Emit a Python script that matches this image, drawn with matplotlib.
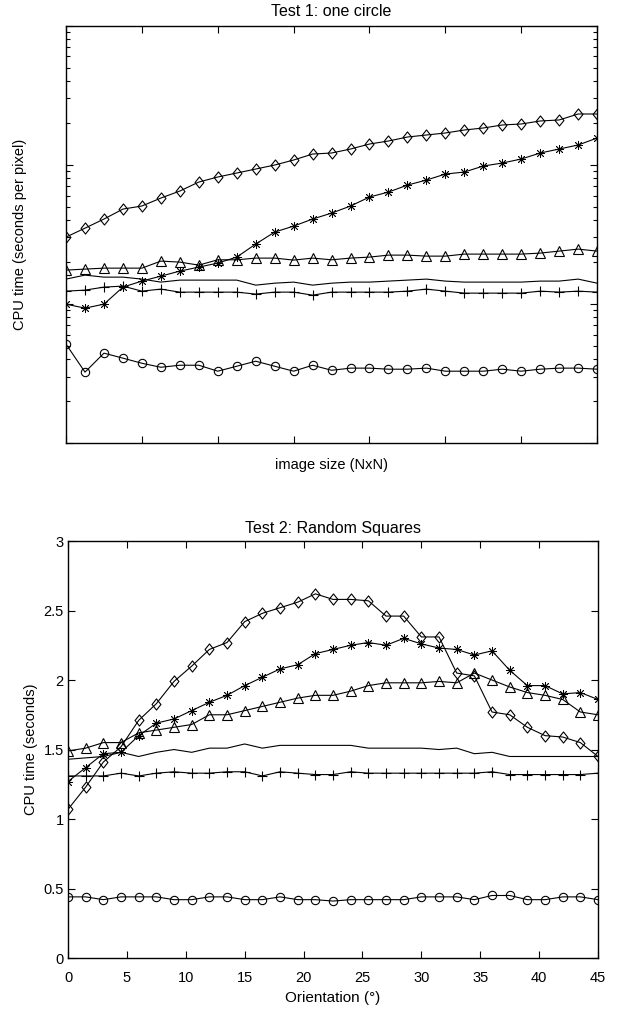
import matplotlib
matplotlib.use('Agg')
import matplotlib.pyplot as plt
import matplotlib.ticker as ticker
from matplotlib.path import Path

plt.rcParams['font.family'] = ['Liberation Sans', 'DejaVu Sans']
plt.rcParams['font.size'] = 10.5

# Test 1: one circle -- 29 image sizes, log scale values (no tick labels in the source)
size_idx = list(range(29))
t1_diamond = [30.2, 35.0, 40.7, 48.0, 50.5, 57.6, 64.7, 75.1, 81.6, 87.2, 93.1, 99.5, 108.1, 119.4, 121.4,
              129.7, 140.9, 148.1, 158.2, 163.6, 169.1, 177.7, 183.7, 193.1, 196.3, 206.3, 209.8, 231.6, 231.6]
t1_star = [9.95, 9.31, 9.95, 13.19, 14.57, 15.82, 17.19, 18.37, 19.63, 21.68, 26.89, 32.8, 36.2, 40.7, 44.9,
           50.5, 58.6, 63.6, 71.4, 77.6, 85.7, 88.6, 97.9, 102.8, 109.9, 121.4, 129.7, 138.6, 155.6]
t1_triangle = [17.48, 17.77, 18.06, 18.06, 18.06, 20.29, 19.95, 18.98, 20.73, 20.73, 21.32, 21.32, 20.63, 21.32, 20.73,
               21.32, 21.68, 22.40, 22.40, 22.03, 22.03, 22.78, 22.78, 22.78, 22.78, 23.16, 23.94, 24.74, 23.94]
t1_plain = [15.06, 16.09, 15.56, 15.56, 15.06, 14.33, 14.81, 14.81, 14.81, 14.81, 13.63, 14.08, 14.33, 13.63, 14.08,
            14.33, 14.33, 14.57, 14.81, 15.06, 14.57, 14.33, 14.33, 14.33, 14.33, 14.57, 14.57, 15.06, 14.08]
t1_plus = [12.34, 12.55, 13.19, 13.41, 12.34, 12.76, 12.14, 12.14, 12.14, 12.14, 11.75, 12.14, 12.14, 11.55, 12.14,
           12.14, 12.14, 12.14, 12.34, 12.76, 12.34, 11.94, 11.94, 11.94, 11.94, 12.34, 12.14, 12.34, 12.14]
t1_circle = [5.13, 3.23, 4.42, 4.07, 3.74, 3.50, 3.62, 3.62, 3.28, 3.56, 3.87, 3.56, 3.28, 3.62, 3.33,
             3.45, 3.45, 3.39, 3.39, 3.45, 3.28, 3.28, 3.28, 3.39, 3.28, 3.39, 3.45, 3.45, 3.39]

# Test 2: Random Squares
angles = [0, 1.5, 3, 4.5, 6, 7.5, 9, 10.5, 12, 13.5, 15, 16.5, 18, 19.5, 21, 22.5,
          24, 25.5, 27, 28.5, 30, 31.5, 33, 34.5, 36, 37.5, 39, 40.5, 42, 43.5, 45]
t2_diamond = [1.07, 1.23, 1.41, 1.52, 1.71, 1.83, 1.99, 2.10, 2.22, 2.27, 2.42, 2.48, 2.52, 2.56, 2.62, 2.58,
              2.58, 2.57, 2.46, 2.46, 2.31, 2.31, 2.05, 2.03, 1.77, 1.75, 1.66, 1.60, 1.59, 1.55, 1.45]
t2_star = [1.27, 1.37, 1.47, 1.48, 1.60, 1.69, 1.72, 1.78, 1.84, 1.89, 1.96, 2.02, 2.08, 2.11, 2.19, 2.22,
           2.25, 2.27, 2.25, 2.30, 2.26, 2.23, 2.22, 2.18, 2.21, 2.07, 1.96, 1.96, 1.90, 1.91, 1.86]
t2_triangle = [1.49, 1.51, 1.55, 1.55, 1.62, 1.64, 1.66, 1.68, 1.75, 1.75, 1.78, 1.81, 1.84, 1.87, 1.89, 1.89,
               1.92, 1.96, 1.98, 1.98, 1.98, 1.99, 1.98, 2.05, 2.00, 1.95, 1.91, 1.89, 1.86, 1.77, 1.75]
t2_plain = [1.43, 1.44, 1.45, 1.48, 1.45, 1.48, 1.50, 1.48, 1.51, 1.51, 1.54, 1.51, 1.53, 1.53, 1.53, 1.53,
            1.53, 1.51, 1.51, 1.51, 1.51, 1.50, 1.51, 1.47, 1.48, 1.45, 1.45, 1.45, 1.45, 1.45, 1.45]
t2_plus = [1.31, 1.31, 1.31, 1.33, 1.31, 1.33, 1.34, 1.33, 1.33, 1.34, 1.34, 1.31, 1.34, 1.33, 1.32, 1.32,
           1.34, 1.33, 1.33, 1.33, 1.33, 1.33, 1.33, 1.33, 1.34, 1.32, 1.32, 1.32, 1.32, 1.32, 1.33]
t2_circle = [0.44, 0.44, 0.42, 0.44, 0.44, 0.44, 0.42, 0.42, 0.44, 0.44, 0.42, 0.42, 0.44, 0.42, 0.42, 0.41,
             0.42, 0.42, 0.42, 0.42, 0.44, 0.44, 0.44, 0.42, 0.45, 0.45, 0.42, 0.42, 0.44, 0.44, 0.42]

# matlab-like diamond, a bit taller than wide
diamond = Path([(0, 1), (0.8, 0), (0, -1), (-0.8, 0), (0, 1)],
               [Path.MOVETO, Path.LINETO, Path.LINETO, Path.LINETO, Path.CLOSEPOLY])


def draw_series(ax, x, d, s, t, p, pl, c):
    lw = 0.8
    kw = dict(color='black', linewidth=lw, markerfacecolor='none', markeredgecolor='black', markeredgewidth=0.8)
    ax.plot(x, p, **kw)
    ax.plot(x, pl, marker='+', markersize=6.5, **kw)
    ax.plot(x, c, marker='o', markersize=6, **kw)
    ax.plot(x, t, marker='^', markersize=7, **kw)
    ax.plot(x, s, marker=(8, 2, 0), markersize=6.5, color='black', linewidth=lw,
            markeredgecolor='black', markeredgewidth=0.6)
    ax.plot(x, d, marker=diamond, markersize=8, **kw)


def style_box(ax):
    ax.tick_params(which='both', direction='in', top=True, right=True, width=0.8)
    ax.tick_params(which='major', length=5)
    ax.tick_params(which='minor', length=3)
    for sp in ax.spines.values():
        sp.set_linewidth(1.0)


fig = plt.figure(figsize=(6.27, 10.09), dpi=100)

ax1 = fig.add_axes([0.1053, 0.561, 0.847, 0.4136])
draw_series(ax1, size_idx, t1_diamond, t1_star, t1_triangle, t1_plain, t1_plus, t1_circle)
ax1.set_yscale('log')
ax1.set_ylim(1, 1000)
ax1.set_xlim(0, 28)
ax1.xaxis.set_major_locator(ticker.MultipleLocator(4))
ax1.yaxis.set_minor_locator(ticker.LogLocator(base=10, subs=range(2, 10)))
style_box(ax1)
ax1.tick_params(which='both', labelbottom=False, labelleft=False)
ax1.set_title('Test 1: one circle', fontsize=11.5, pad=7)
ax1.set_xlabel('image size (NxN)', labelpad=11)
ax1.set_ylabel('CPU time (seconds per pixel)', labelpad=28)

ax2 = fig.add_axes([0.1085, 0.0505, 0.8453, 0.4133])
draw_series(ax2, angles, t2_diamond, t2_star, t2_triangle, t2_plain, t2_plus, t2_circle)
ax2.set_xlim(0, 45)
ax2.set_ylim(0, 3)
ax2.set_xticks(range(0, 50, 5))
ax2.set_yticks([0, 0.5, 1, 1.5, 2, 2.5, 3])
ax2.set_yticklabels(['0', '0.5', '1', '1.5', '2', '2.5', '3'])
style_box(ax2)
ax2.tick_params(axis='x', which='major', pad=9)
ax2.tick_params(axis='y', which='major', pad=3)
ax2.set_title('Test 2: Random Squares', fontsize=11.5, pad=6)
ax2.set_xlabel('Orientation (°)', fontsize=11, labelpad=4.5)
ax2.set_ylabel('CPU time (seconds)', labelpad=4)

fig.savefig('out.png', dpi=100)
